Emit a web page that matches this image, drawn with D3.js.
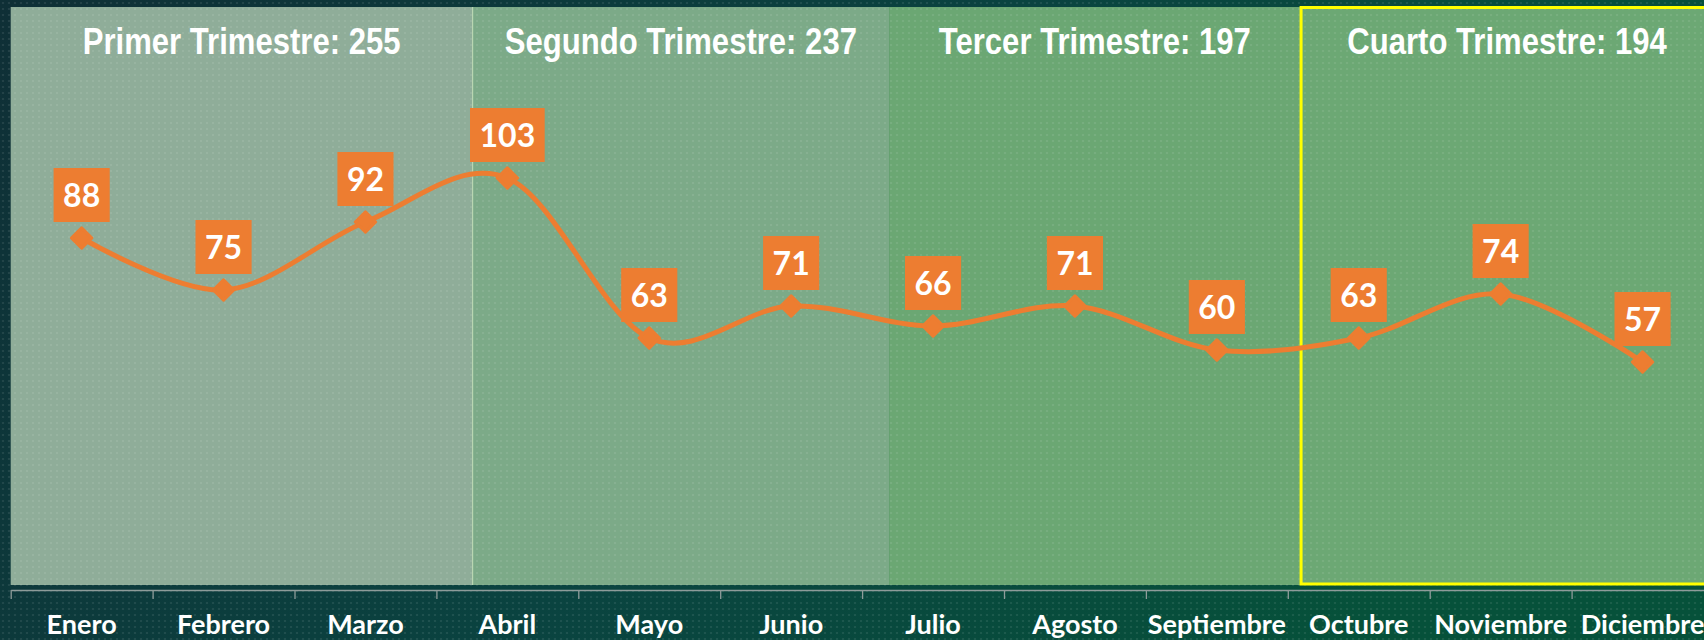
<!DOCTYPE html>
<html>
<head>
<meta charset="utf-8">
<script src="https://cdn.jsdelivr.net/npm/d3@7"></script>
<style>
  html, body { margin: 0; padding: 0; background: #0c3a38; overflow: hidden; }
  svg { display: block; }
</style>
</head>
<body>
<svg id="chart" width="1704" height="640"></svg>
<script>
// ---- data ----
const months = ["Enero", "Febrero", "Marzo", "Abril", "Mayo", "Junio", "Julio", "Agosto", "Septiembre", "Octubre", "Noviembre", "Diciembre"];
const values = [88, 75, 92, 103, 63, 71, 66, 71, 60, 63, 74, 57];
const quarterNames = ["Primer Trimestre", "Segundo Trimestre", "Tercer Trimestre", "Cuarto Trimestre"];
const quarterTotals = [255, 237, 197, 194];
// quarter panel edges, in month units along the category axis
const quarterEdges = [0, 3.255, 6.19, 9.09, 12];

// ---- layout / style ----
const W = 1704, H = 640;
const plotLeft = 10.7, bandW = 141.9;
const plotRight = plotLeft + months.length * bandW;
const panelTop = 7, panelBottom = 585, axisY = 590;
const quarterFills = ["#8fad99", "#7caa88", "#6ba773", "#6ca874"];
const orange = "#ED7D31";

const svg = d3.select("#chart");
const defs = svg.append("defs");

const bg = defs.append("linearGradient").attr("id", "bg").attr("x1", 0).attr("y1", 0).attr("x2", 1).attr("y2", 0.3);
bg.append("stop").attr("offset", "0%").attr("stop-color", "#0f2f36");
bg.append("stop").attr("offset", "55%").attr("stop-color", "#0a4340");
bg.append("stop").attr("offset", "100%").attr("stop-color", "#06513a");

const dots = defs.append("pattern").attr("id", "dots").attr("width", 6).attr("height", 6).attr("patternUnits", "userSpaceOnUse");
dots.append("circle").attr("cx", 3).attr("cy", 3).attr("r", 1.1).attr("fill", "#ffffff").attr("opacity", 0.10);

svg.append("rect").attr("width", W).attr("height", H).attr("fill", "url(#bg)");

// scales
const x = d3.scaleBand().domain(months).range([plotLeft, plotRight]).padding(0);
const xi = d3.scaleLinear().domain([0, months.length]).range([plotLeft, plotRight]);
const y = d3.scaleLinear().domain([0, 120]).range([axisY, axisY - 480]);

// quarter panels
const quarters = quarterNames.map((n, i) => ({ name: n, total: quarterTotals[i], x0: quarterEdges[i], x1: quarterEdges[i + 1], fill: quarterFills[i] }));

svg.append("g").selectAll("rect").data(quarters).join("rect")
  .attr("x", d => xi(d.x0))
  .attr("y", panelTop)
  .attr("width", d => xi(d.x1) - xi(d.x0))
  .attr("height", panelBottom - panelTop)
  .attr("fill", d => d.fill);

// divider between Q1 and Q2
svg.append("line")
  .attr("x1", xi(quarterEdges[1])).attr("x2", xi(quarterEdges[1]))
  .attr("y1", panelTop).attr("y2", panelBottom)
  .attr("stroke", "#b9d6b2").attr("stroke-width", 1.2);

// dotted texture
svg.append("rect").attr("width", W).attr("height", H).attr("fill", "url(#dots)");

// highlight of last quarter
svg.append("rect")
  .attr("x", xi(quarterEdges[3]) + 0.5)
  .attr("y", panelTop + 0.5)
  .attr("width", xi(quarterEdges[4]) - xi(quarterEdges[3]))
  .attr("height", panelBottom - 1 - panelTop - 0.5)
  .attr("fill", "none")
  .attr("stroke", "#ffff00")
  .attr("stroke-width", 3);

// quarter titles (narrow bold face emulated by horizontal compression)
svg.append("g").selectAll("text").data(quarters).join("text")
  .attr("transform", d => `translate(${(xi(d.x0) + xi(d.x1)) / 2},54) scale(0.84,1)`)
  .attr("text-anchor", "middle")
  .attr("fill", "#ffffff")
  .style("font-family", "'Liberation Sans', Arial, sans-serif")
  .style("font-weight", "bold")
  .style("font-size", "37px")
  .text(d => `${d.name}: ${d.total}`);

// axis: tick marks at month boundaries
const tickAxis = d3.axisBottom(xi).tickValues(d3.range(0, months.length + 1)).tickFormat("").tickSize(9).tickSizeOuter(0);
const gTicks = svg.append("g").attr("transform", `translate(0,${axisY})`).call(tickAxis);
gTicks.select(".domain").attr("stroke", "#8e9c9a").attr("stroke-width", 1.6);
gTicks.selectAll(".tick line").attr("stroke", "#8e9c9a").attr("stroke-width", 1.3);

// axis: month labels
const labelAxis = d3.axisBottom(x).tickSize(0).tickPadding(0);
const gLabels = svg.append("g").attr("transform", `translate(0,${axisY})`).call(labelAxis);
gLabels.select(".domain").remove();
gLabels.selectAll(".tick text")
  .attr("y", 44)
  .attr("dy", null)
  .attr("fill", "#ffffff")
  .style("font-family", "Lato, 'Open Sans', sans-serif")
  .style("font-weight", "bold")
  .style("font-size", "27px");

// line
const pts = months.map((m, i) => ({ m, v: values[i] }));
const line = d3.line()
  .x(d => x(d.m) + x.bandwidth() / 2)
  .y(d => y(d.v))
  .curve(d3.curveCardinal.tension(0));

svg.append("path").datum(pts)
  .attr("d", line)
  .attr("fill", "none")
  .attr("stroke", orange)
  .attr("stroke-width", 5)
  .attr("stroke-linecap", "round")
  .attr("stroke-linejoin", "round");

// markers (diamonds)
svg.append("g").selectAll("path").data(pts).join("path")
  .attr("transform", d => `translate(${x(d.m) + x.bandwidth() / 2},${y(d.v)}) rotate(45)`)
  .attr("d", d3.symbol().type(d3.symbolSquare).size(210))
  .attr("fill", orange)
  .attr("stroke", orange)
  .attr("stroke-width", 3)
  .attr("stroke-linejoin", "round");

// value labels
const lab = svg.append("g").selectAll("g").data(pts).join("g")
  .attr("transform", d => `translate(${x(d.m) + x.bandwidth() / 2},${y(d.v) - 16})`);
lab.append("text")
  .attr("text-anchor", "middle")
  .attr("fill", "#ffffff")
  .style("font-family", "Lato, 'Open Sans', sans-serif")
  .style("font-weight", "bold")
  .style("font-size", "32px")
  .attr("y", -15)
  .text(d => d.v);
lab.each(function () {
  const g = d3.select(this);
  const w = g.select("text").node().getComputedTextLength();
  g.insert("rect", "text")
    .attr("x", -w / 2 - 9.5)
    .attr("y", -54)
    .attr("width", w + 19)
    .attr("height", 54)
    .attr("fill", orange);
});
</script>
</body>
</html>
